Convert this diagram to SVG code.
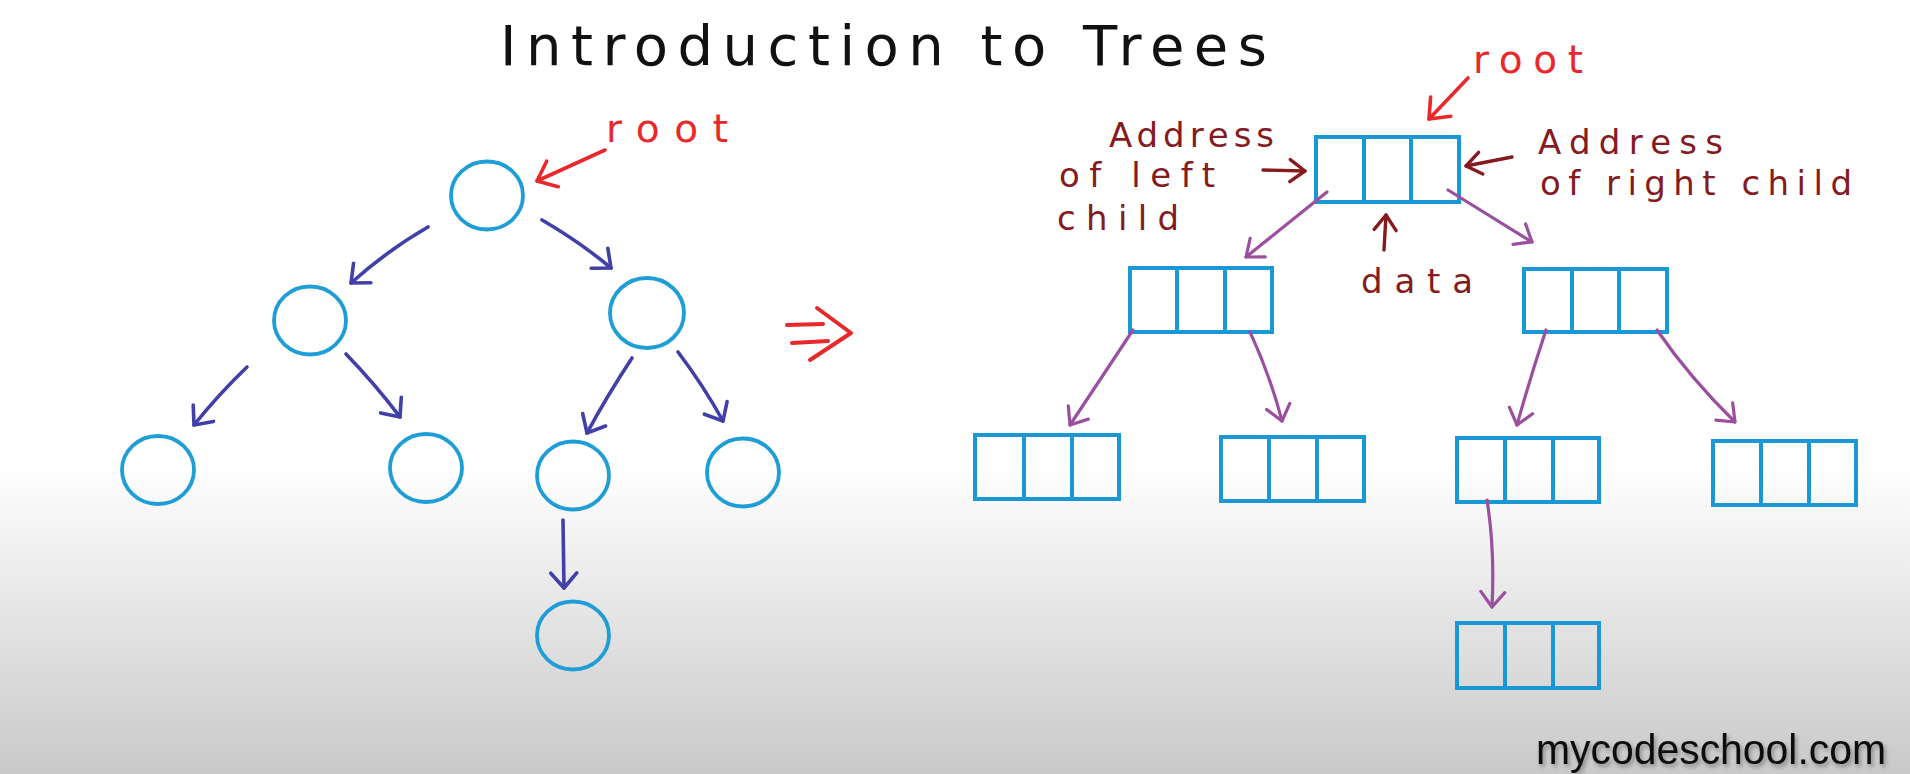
<svg xmlns="http://www.w3.org/2000/svg" width="1910" height="774" viewBox="0 0 1910 774">
  <defs>
    <linearGradient id="bg" x1="0" y1="0" x2="0" y2="774" gradientUnits="userSpaceOnUse">
      <stop offset="0" stop-color="#ffffff"/>
      <stop offset="0.6" stop-color="#ffffff"/>
      <stop offset="1" stop-color="#c9c9c9"/>
    </linearGradient>
    <filter id="shadow" x="-5%" y="-30%" width="110%" height="160%">
      <feDropShadow dx="2" dy="3" stdDeviation="2" flood-color="#000" flood-opacity="0.35"/>
    </filter>
    <marker id="ah-blue" viewBox="-20 -16 24 32" refX="0" refY="0" markerWidth="24" markerHeight="32" markerUnits="userSpaceOnUse" orient="auto">
      <path d="M-15,-13 L0,0 L-15,13" fill="none" stroke="#4040a8" stroke-width="3.6" stroke-linecap="round" stroke-linejoin="round"/>
    </marker>
    <marker id="ah-purple" viewBox="-20 -16 24 32" refX="0" refY="0" markerWidth="24" markerHeight="32" markerUnits="userSpaceOnUse" orient="auto">
      <path d="M-15,-12 L0,0 L-15,12" fill="none" stroke="#9a4f9f" stroke-width="3.2" stroke-linecap="round" stroke-linejoin="round"/>
    </marker>
    <marker id="ah-red" viewBox="-22 -18 26 36" refX="0" refY="0" markerWidth="26" markerHeight="36" markerUnits="userSpaceOnUse" orient="auto">
      <path d="M-17,-14 L0,0 L-17,14" fill="none" stroke="#e8282b" stroke-width="3.6" stroke-linecap="round" stroke-linejoin="round"/>
    </marker>
    <marker id="ah-dred" viewBox="-20 -16 24 32" refX="0" refY="0" markerWidth="24" markerHeight="32" markerUnits="userSpaceOnUse" orient="auto">
      <path d="M-15,-11 L0,0 L-15,11" fill="none" stroke="#851b1f" stroke-width="3.4" stroke-linecap="round" stroke-linejoin="round"/>
    </marker>
  </defs>
  <style>
    .circ { fill: none; stroke: #1e9dd6; stroke-width: 3.8; }
    .box { fill: none; stroke: #1a98d6; stroke-width: 4; }
    .blue { fill: none; stroke: #4040a8; stroke-width: 3.6; stroke-linecap: round; marker-end: url(#ah-blue); }
    .purple { fill: none; stroke: #9a4f9f; stroke-width: 3.2; stroke-linecap: round; marker-end: url(#ah-purple); }
    .red { fill: none; stroke: #e8282b; stroke-width: 3.6; stroke-linecap: round; marker-end: url(#ah-red); }
    .dred { fill: none; stroke: #851b1f; stroke-width: 3.4; stroke-linecap: round; marker-end: url(#ah-dred); }
    .title { font-family: "DejaVu Sans", "Liberation Sans", sans-serif; font-size: 56px; fill: #111; }
    .rootlbl { font-family: "DejaVu Sans", "Liberation Sans", sans-serif; font-size: 39px; fill: #e8282b; }
    .lbl { font-family: "DejaVu Sans", "Liberation Sans", sans-serif; font-size: 34px; fill: #851b1f; }
    .wm { font-family: "Liberation Sans", Arial, sans-serif; font-size: 42px; fill: #111; }
  </style>

  <rect x="0" y="0" width="1910" height="774" fill="url(#bg)"/>

  <text id="title" class="title" x="500" y="65" textLength="767" lengthAdjust="spacing">Introduction to Trees</text>

  <!-- Left tree nodes -->
  <g id="c-root"><ellipse class="circ" cx="487" cy="195.5" rx="36" ry="34"/></g>
  <g id="c-l"><ellipse class="circ" cx="310" cy="320.5" rx="36" ry="34"/></g>
  <g id="c-r"><ellipse class="circ" cx="647" cy="313" rx="37" ry="35"/></g>
  <g id="c-ll"><ellipse class="circ" cx="158" cy="470" rx="36" ry="34"/></g>
  <g id="c-lr"><ellipse class="circ" cx="426" cy="468" rx="36" ry="34"/></g>
  <g id="c-rl"><ellipse class="circ" cx="573" cy="475.5" rx="36" ry="34"/></g>
  <g id="c-rr"><ellipse class="circ" cx="743" cy="472.5" rx="36" ry="34"/></g>
  <g id="c-rll"><ellipse class="circ" cx="573" cy="635.5" rx="36" ry="34"/></g>

  <!-- Right tree nodes -->
  <g id="b-root"><rect class="box" x="1316" y="137" width="143" height="65"/><path class="box" d="M1364,137 V202 M1411,137 V202"/></g>
  <g id="b-l"><rect class="box" x="1130" y="268" width="142" height="64"/><path class="box" d="M1177,268 V332 M1225,268 V332"/></g>
  <g id="b-r"><rect class="box" x="1524" y="269" width="143" height="63"/><path class="box" d="M1572,269 V332 M1619,269 V332"/></g>
  <g id="b-ll"><rect class="box" x="975" y="435" width="144" height="64"/><path class="box" d="M1024,435 V499 M1072,435 V499"/></g>
  <g id="b-lr"><rect class="box" x="1221" y="437" width="143" height="64"/><path class="box" d="M1269,437 V501 M1317,437 V501"/></g>
  <g id="b-rl"><rect class="box" x="1457" y="438" width="142" height="64"/><path class="box" d="M1505,438 V502 M1553,438 V502"/></g>
  <g id="b-rr"><rect class="box" x="1713" y="441" width="143" height="64"/><path class="box" d="M1761,441 V505 M1809,441 V505"/></g>
  <g id="b-rll"><rect class="box" x="1457" y="623" width="142" height="65"/><path class="box" d="M1505,623 V688 M1553,623 V688"/></g>

  <!-- Labels -->
  <g id="lbl-root-left"><text class="rootlbl" x="606" y="142" textLength="122" lengthAdjust="spacing">root</text></g>
  <g id="lbl-root-right"><text class="rootlbl" x="1473" y="73" textLength="110" lengthAdjust="spacing">root</text></g>
  <g id="lbl-left-addr">
    <text class="lbl" x="1109" y="147" textLength="165" lengthAdjust="spacing">Address</text>
    <text class="lbl" x="1059" y="187" textLength="156" lengthAdjust="spacing">of left</text>
    <text class="lbl" x="1057" y="230" textLength="122" lengthAdjust="spacing">child</text>
  </g>
  <g id="lbl-right-addr">
    <text class="lbl" x="1538" y="154" textLength="185" lengthAdjust="spacing">Address</text>
    <text class="lbl" x="1540" y="195" textLength="312" lengthAdjust="spacing">of right child</text>
  </g>
  <g id="lbl-data"><text class="lbl" x="1361" y="293" textLength="112" lengthAdjust="spacing">data</text></g>

  <g id="implies-arrow" fill="none" stroke="#e8282b" stroke-width="4" stroke-linecap="round" stroke-linejoin="round">
    <path d="M787,325 L823,324"/>
    <path d="M792,343 L828,341"/>
    <path d="M817,308 L851,333 L810,360"/>
  </g>

  <!-- Connectors -->
  <g id="connectors">
    <path class="blue" d="M428,227 Q388,250 351,283"/>
    <path class="blue" d="M542,220 Q580,242 611,268"/>
    <path class="blue" d="M247,367 Q218,395 194,425"/>
    <path class="blue" d="M346,354 Q375,384 400,417"/>
    <path class="blue" d="M632,358 Q607,396 587,433"/>
    <path class="blue" d="M678,352 Q703,385 723,421"/>
    <path class="blue" d="M563,520 L564,588"/>

    <path class="red" d="M605,150 L537,181"/>
    <path class="red" d="M1468,78 L1429,119"/>

    <path class="dred" d="M1263,170 L1305,171"/>
    <path class="dred" d="M1512,157 L1466,166"/>
    <path class="dred" d="M1384,250 L1386,215"/>

    <path class="purple" d="M1327,192 L1246,257"/>
    <path class="purple" d="M1448,190 L1532,242"/>
    <path class="purple" d="M1133,330 L1070,425"/>
    <path class="purple" d="M1250,332 Q1270,375 1282,421"/>
    <path class="purple" d="M1546,330 Q1530,378 1517,425"/>
    <path class="purple" d="M1657,330 Q1690,378 1735,422"/>
    <path class="purple" d="M1487,500 Q1495,550 1492,607"/>
  </g>

  <text id="watermark" class="wm" x="1536" y="764" textLength="350" lengthAdjust="spacingAndGlyphs" filter="url(#shadow)">mycodeschool.com</text>
</svg>
